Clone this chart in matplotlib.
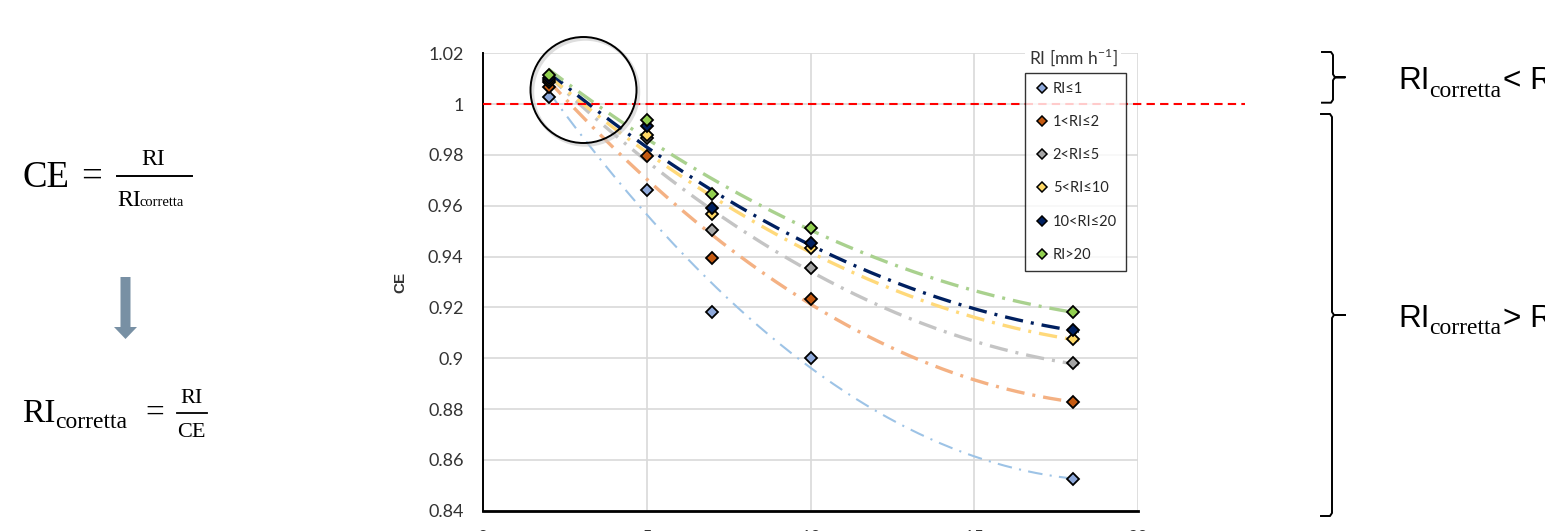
import numpy as np
import matplotlib
matplotlib.use("Agg")
import matplotlib.pyplot as plt
from matplotlib.lines import Line2D
from matplotlib.patches import Ellipse, Polygon

plt.rcParams['font.family'] = ['Lato', 'DejaVu Sans']

W, H = 1545, 531

# CE per classe di intensità
x_vals = [2, 5, 7, 10, 18]
ce_le1 = [1.0029, 0.9662, 0.9183, 0.8999, 0.8525]
ce_1_2 = [1.0069, 0.9796, 0.9396, 0.9234, 0.8829]
ce_2_5 = [1.0087, 0.9866, 0.9505, 0.9354, 0.8980]
ce_5_10 = [1.0095, 0.9880, 0.9568, 0.9433, 0.9074]
ce_10_20 = [1.0103, 0.9914, 0.9590, 0.9455, 0.9111]
ce_gt20 = [1.0115, 0.9939, 0.9645, 0.9511, 0.9183]

labels = ['RI≤1', '1<RI≤2', '2<RI≤5', '5<RI≤10', '10<RI≤20', 'RI>20']
series = [ce_le1, ce_1_2, ce_2_5, ce_5_10, ce_10_20, ce_gt20]
marker_colors = ['#8EA9DB', '#C55A11', '#A5A5A5', '#FFD966', '#002060', '#92D050']
trend_colors = ['#9DC3E6', '#F4B183', '#C4C4C4', '#FFD97A', '#002060', '#A9D18E']
trend_widths = [1.5, 2.4, 2.4, 2.4, 2.4, 2.4]

x_ticks = [0, 5, 10, 15, 20]
y_ticks = [0.84, 0.86, 0.88, 0.9, 0.92, 0.94, 0.96, 0.98, 1, 1.02]
y_ticklabels = ['0.84', '0.86', '0.88', '0.9', '0.92', '0.94', '0.96', '0.98', '1', '1.02']


def fx(px):
    return px / W


def fy(py):
    return 1 - py / H


fig = plt.figure(figsize=(W / 100, H / 100), dpi=100)
ax = fig.add_axes([fx(483), fy(510.7), (1138 - 483) / W, (510.7 - 53.3) / H])

# linee di tendenza (polinomiale 2° ordine) + punti
xs = np.linspace(2, 18.2, 200)
for vals, mc, tc, lw in zip(series, marker_colors, trend_colors, trend_widths):
    coef = np.polyfit(x_vals, vals, 2)
    if lw < 2:
        dash = (0, (7, 3.5, 1, 3.5))
    else:
        dash = (0, (5.5, 2.4, 0.9, 2.4))
    ax.plot(xs, np.polyval(coef, xs), color=tc, lw=lw, ls=dash, zorder=2)
for vals, mc in zip(series, marker_colors):
    ax.plot(x_vals, vals, ls='none', marker='D', ms=6.5, mfc=mc, mec='black', mew=1.3, zorder=3)

# CE = 1
ax.axhline(1, xmin=0, xmax=(1245 - 483) / (1138 - 483), color='#FF0000', lw=1.5,
           ls=(0, (4, 2.5)), clip_on=False, zorder=4)

ax.set_xlim(0, 20)
ax.set_ylim(0.84, 1.02)
ax.set_xticks(x_ticks)
ax.set_yticks(y_ticks)
ax.set_yticklabels(y_ticklabels)
ax.tick_params(axis='both', length=0, labelsize=13, colors='#333333')
ax.tick_params(axis='y', pad=14)
ax.tick_params(axis='x', pad=14)
ax.grid(True, color='#D9D9D9', lw=1.2)
ax.set_axisbelow(True)
for s in ['top', 'right']:
    ax.spines[s].set_visible(False)
ax.spines['left'].set_linewidth(1.4)
ax.spines['bottom'].set_linewidth(2)
ax.set_ylabel('CE', fontsize=11, fontweight='bold', family='Liberation Sans', color='#333333')
ax.yaxis.set_label_coords(-0.116, 0.5)

handles = [Line2D([], [], ls='none', marker='D', ms=5.5, mfc=c, mec='black', mew=1.1)
           for c in marker_colors]
leg = ax.legend(handles, labels, loc='upper left', bbox_to_anchor=((1025 - 483) / 655, (510.7 - 73) / 457.4),
                borderaxespad=0, fontsize=10.5, frameon=True, fancybox=False, edgecolor='black',
                labelspacing=1.32, handletextpad=0.2, handlelength=1.1, borderpad=0.6)
leg.get_frame().set_linewidth(1.0)
for t in leg.get_texts():
    t.set_color('#262626')
fig.text(fx(1073), fy(57), r'RI [mm h$^{\mathregular{-1}}$]', ha='center', va='center', fontsize=12.5,
         color='#333333', bbox=dict(facecolor='white', edgecolor='none', pad=3))

# cerchio
fig.patches.append(Ellipse((fx(585.5), fy(92)), 106 / W, 106 / H, transform=fig.transFigure,
                           fill=False, edgecolor='#C8C8C8', lw=2.5, alpha=0.6))
fig.patches.append(Ellipse((fx(583.5), fy(90)), 106 / W, 106 / H, transform=fig.transFigure,
                           fill=False, edgecolor='black', lw=1.4))

# formule a sinistra
serif = 'Liberation Serif'
fig.text(fx(22), fy(187), 'CE', fontsize=26.5, family=serif, va='baseline')
fig.text(fx(91.5), fy(187), '=', fontsize=26.5, family=serif, va='baseline', ha='center')
fig.add_artist(Line2D([fx(117), fx(192)], [fy(176), fy(176)], color='black', lw=1.4))
fig.text(fx(153.5), fy(165), 'RI', fontsize=17, family=serif, va='baseline', ha='center')
fig.text(fx(117), fy(206), 'RI', fontsize=17, family=serif, va='baseline')
fig.text(fx(140), fy(206), 'corretta', fontsize=10.5, family=serif, va='baseline')

arrow = [(120.5, 277), (130.5, 277), (130.5, 327), (137, 327), (125.5, 339), (114, 327), (120.5, 327)]
fig.patches.append(Polygon([(fx(a), fy(b)) for a, b in arrow], closed=True, transform=fig.transFigure,
                           facecolor='#7890A4', edgecolor='none'))

fig.text(fx(22), fy(422), 'RI', fontsize=24, family=serif, va='baseline')
fig.text(fx(55), fy(428), 'corretta', fontsize=17, family=serif, va='baseline')
fig.text(fx(155), fy(422), '=', fontsize=24, family=serif, va='baseline', ha='center')
fig.add_artist(Line2D([fx(177), fx(207)], [fy(412.7), fy(412.7)], color='black', lw=1.3))
fig.text(fx(191.5), fy(403), 'RI', fontsize=16, family=serif, va='baseline', ha='center')
fig.text(fx(191.5), fy(437), 'CE', fontsize=16, family=serif, va='baseline', ha='center')


# parentesi graffe a destra
def brace(x_hook, x_vert, x_tip, y_top, y_mid, y_bot):
    pts = [(x_hook, y_top), (x_vert - 2, y_top), (x_vert, y_top + 3), (x_vert, y_mid - 3),
           (x_vert + 2, y_mid), (x_tip, y_mid), (x_vert + 2, y_mid), (x_vert, y_mid + 3),
           (x_vert, y_bot - 3), (x_vert - 2, y_bot), (x_hook, y_bot)]
    fig.add_artist(Line2D([fx(p[0]) for p in pts], [fy(p[1]) for p in pts], color='black', lw=1.4))


brace(1322, 1333, 1345, 52, 77.3, 102.7)
brace(1321, 1332, 1345, 114, 315, 516)

sans = 'Liberation Sans'
for base, sub_base, sign in [(89.3, 96.7, '< RI'), (326.7, 334, '> RI')]:
    fig.text(fx(1398), fy(base), 'RI', fontsize=22.7, family=sans, va='baseline')
    fig.text(fx(1429), fy(sub_base), 'corretta', fontsize=17, family=serif, va='baseline')
    fig.text(fx(1503), fy(base), sign, fontsize=22.7, family=sans, va='baseline')

fig.savefig('out.png', dpi=100)
